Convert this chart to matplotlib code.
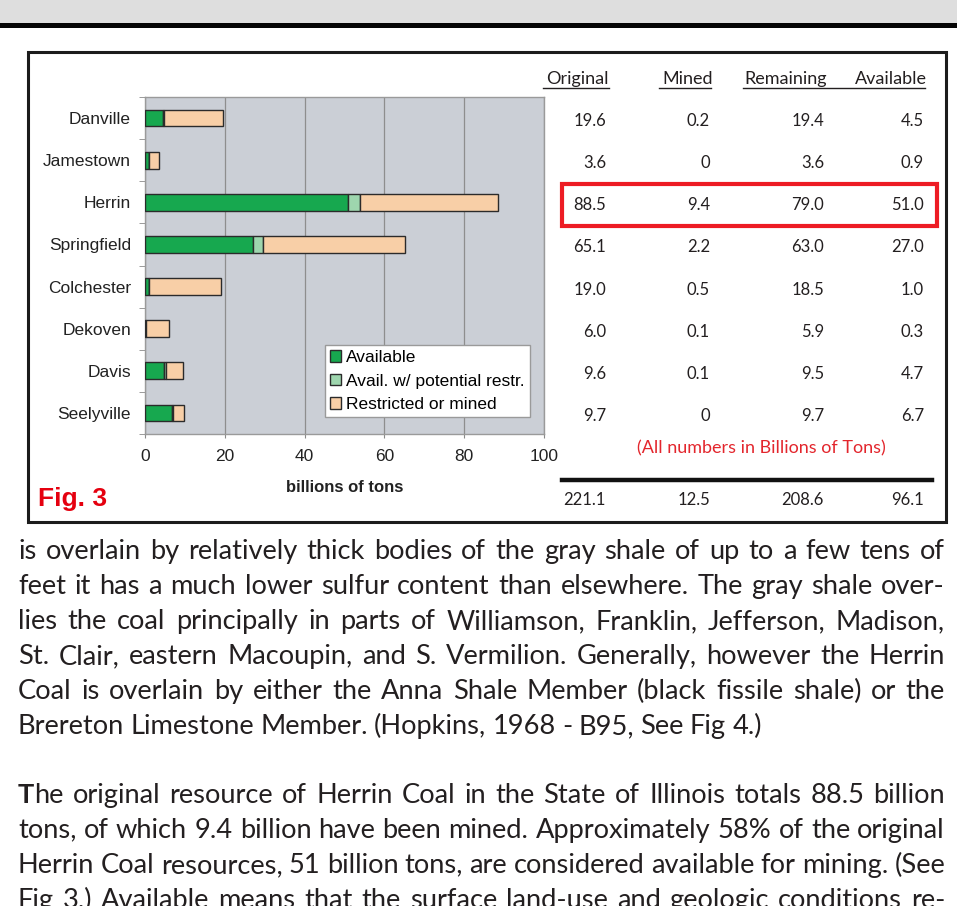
import matplotlib
matplotlib.use('Agg')
import matplotlib.pyplot as plt
import matplotlib.transforms as mtransforms
from matplotlib.patches import Rectangle
from matplotlib.lines import Line2D
import numpy as np

# --- data -------------------------------------------------------------
seams = ['Danville', 'Jamestown', 'Herrin', 'Springfield',
         'Colchester', 'Dekoven', 'Davis', 'Seelyville']
original = [19.6, 3.6, 88.5, 65.1, 19.0, 6.0, 9.6, 9.7]
mined = [0.2, 0, 9.4, 2.2, 0.5, 0.1, 0.1, 0]
remaining = [19.4, 3.6, 79.0, 63.0, 18.5, 5.9, 9.5, 9.7]
available = [4.5, 0.9, 51.0, 27.0, 1.0, 0.3, 4.7, 6.7]
potential = [0.3, 0, 3.0, 2.5, 0, 0, 0.5, 0.3]
restricted = [14.8, 2.7, 34.5, 35.6, 18.0, 5.7, 4.4, 2.7]
totals = [221.1, 12.5, 208.6, 96.1]
col_names = ['Original', 'Mined', 'Remaining', 'Available']
x_ticks = [0, 20, 40, 60, 80, 100]
legend_names = ['Available', 'Avail. w/ potential restr.', 'Restricted or mined']

para1 = [
    "is overlain by relatively thick bodies of the gray shale of up to a few tens of",
    "feet it has a much lower sulfur content than elsewhere.  The gray shale over-",
    "lies the coal principally in parts of  Williamson, Franklin, Jefferson, Madison,",
    "St. Clair, eastern Macoupin, and S. Vermilion. Generally, however the Herrin",
    "Coal is overlain by either the Anna Shale Member (black fissile shale) or the",
    "Brereton Limestone Member. (Hopkins, 1968 - B95, See Fig 4.)",
]
para2 = [
    "The original resource of Herrin Coal in the State of Illinois totals 88.5 billion",
    "tons, of which 9.4 billion have been mined. Approximately 58% of the original",
    "Herrin Coal resources, 51 billion tons, are considered available for mining. (See",
    "Fig 3.)  Available means that the surface land-use and geologic conditions re-",
]

W, H = 957, 906
fig = plt.figure(figsize=(W / 100, H / 100), dpi=100)
fig.patch.set_facecolor('white')


def fx(x):
    return x / W


def fy(y):
    return 1 - y / H


def box(x0, y0, x1, y1):
    return [fx(x0), fy(y1), (x1 - x0) / W, (y1 - y0) / H]


# page header band
fig.add_artist(Rectangle((0, fy(23)), 1, 23 / H, transform=fig.transFigure,
                         facecolor='#dedede', edgecolor='none'))
fig.add_artist(Rectangle((0, fy(27.5)), 1, 4.5 / H, transform=fig.transFigure,
                         facecolor='#050505', edgecolor='none'))
# figure frame
fig.add_artist(Rectangle((fx(28), fy(522)), (946 - 28) / W, (522 - 52) / H,
                         transform=fig.transFigure, fill=False,
                         edgecolor='#1c1c1c', linewidth=2.2))

# --- bar chart --------------------------------------------------------
ax = fig.add_axes(box(145, 97, 544, 434))
ax.set_facecolor('#cbcfd6')
y = np.arange(len(seams))
c_av, c_pot, c_res = '#17a84f', '#9ed6ae', '#f8cfa7'
left2 = np.array(available) + np.array(potential)
ax.barh(y, available, height=0.4, color=c_av, edgecolor='#2b2b2b', lw=1,
        label=legend_names[0], zorder=3)
ax.barh(y, potential, left=available, height=0.4, color=c_pot,
        edgecolor='#2b2b2b', lw=1, label=legend_names[1], zorder=3)
ax.barh(y, restricted, left=left2, height=0.4, color=c_res,
        edgecolor='#2b2b2b', lw=1, label=legend_names[2], zorder=3)
ax.set_xlim(0, 100)
ax.set_ylim(len(seams) - 0.5, -0.5)
ax.set_xticks(x_ticks)
ax.set_yticks(y)
ax.set_yticklabels(seams)
ax.set_yticks(np.arange(-0.5, len(seams), 1), minor=True)
ax.tick_params(axis='y', which='major', length=0, pad=10,
               labelsize=12.5, labelcolor='#222222')
ax.tick_params(axis='y', which='minor', length=4, color='#8a8a8a')
ax.tick_params(axis='x', length=3, color='#8a8a8a', pad=8,
               labelsize=12.5, labelcolor='#222222')
for lab in ax.get_xticklabels() + ax.get_yticklabels():
    lab.set_family('Liberation Sans')
ax.grid(axis='x', color='#8e8e8e', lw=0.9, zorder=1)
ax.set_axisbelow(True)
for s in ax.spines.values():
    s.set_color('#9a9a9a')
    s.set_linewidth(1)
fig.text(fx(345), fy(487), 'billions of tons', ha='center', va='center',
         fontsize=12, fontweight='bold', family='Liberation Sans',
         color='#222222')
fig.text(fx(38), fy(506), 'Fig. 3', ha='left', va='baseline', fontsize=19,
         fontweight='bold', family='Liberation Sans', color='#e5000f')

leg = ax.legend(loc='upper left', bbox_to_anchor=(fx(325), fy(345)),
                bbox_transform=fig.transFigure, borderaxespad=0,
                prop={'family': 'Liberation Sans', 'size': 12.5},
                handlelength=0.65, handleheight=0.65, handletextpad=0.25,
                labelspacing=0.48, borderpad=0.3, fancybox=False,
                framealpha=1, edgecolor='#9a9a9a')
leg.get_frame().set_linewidth(1)

# --- table on the right ------------------------------------------------
col_right = [606, 710, 824, 924]
shift = mtransforms.ScaledTranslation(0, -3 / 100, fig.dpi_scale_trans)
tr = mtransforms.blended_transform_factory(fig.transFigure, ax.transData) + shift


def fmt(v):
    return '0' if v == 0 else f'{v:.1f}'


for xr, name in zip(col_right, col_names):
    fig.text(fx(xr + 3), fy(84), name, ha='right', va='baseline', fontsize=13,
             family='Lato', color='#231f20')
for x0, x1 in [(543, 609), (659, 711), (743, 925)]:
    fig.add_artist(Line2D([fx(x0), fx(x1)], [fy(88), fy(88)],
                          transform=fig.transFigure, color='#231f20', lw=1))

for col, xr in zip([original, mined, remaining, available], col_right):
    for i, v in enumerate(col):
        fig.text(fx(xr), i, fmt(v), transform=tr, ha='right', va='center',
                 fontsize=12, family='Lato', color='#231f20')

fig.add_artist(Rectangle((fx(562), fy(226)), (937 - 562) / W, (226 - 184) / H,
                         transform=fig.transFigure, fill=False,
                         edgecolor='#ed1c24', linewidth=3))
fig.text(fx(761), fy(448), '(All numbers in Billions of Tons)', ha='center',
         va='center', fontsize=13, family='Lato', color='#e3262d')
fig.add_artist(Line2D([fx(562), fx(932)], [fy(480), fy(480)],
                      transform=fig.transFigure, color='#111111', lw=3.2))
for xr, v in zip(col_right, totals):
    fig.text(fx(xr), fy(500), fmt(v), ha='right', va='center',
             fontsize=12, family='Lato', color='#231f20')

# --- body text (justified) --------------------------------------------
renderer = fig.canvas.get_renderer()
BODY = 19.6
X0, X1 = 18, 945


def put_line(line, ybase, justify=True, bold_first=False):
    words = line.split()
    parts = []
    for k, w in enumerate(words):
        if k == 0 and bold_first:
            segs = [(w[0], 'bold'), (w[1:], 'normal')]
        else:
            segs = [(w, 'normal')]
        texts = [fig.text(0, fy(ybase), s, fontsize=BODY, fontweight=wt,
                          family='Lato', color='#231f20', va='baseline',
                          ha='left') for s, wt in segs]
        parts.append(texts)
    widths = [[t.get_window_extent(renderer).width for t in p] for p in parts]
    total = sum(sum(w) for w in widths)
    if justify and len(parts) > 1:
        gap = (X1 - X0 - total) / (len(parts) - 1)
    else:
        gap = BODY * 100 / 72 * 0.23
    x = X0
    for p, ws in zip(parts, widths):
        for t, w in zip(p, ws):
            t.set_x(fx(x))
            x += w
        x += gap


for i, line in enumerate(para1):
    put_line(line, 559 + 35 * i, justify=(i < len(para1) - 1))
for i, line in enumerate(para2):
    put_line(line, 803 + 35 * i, justify=True, bold_first=(i == 0))

fig.savefig('out.png', dpi=100)
